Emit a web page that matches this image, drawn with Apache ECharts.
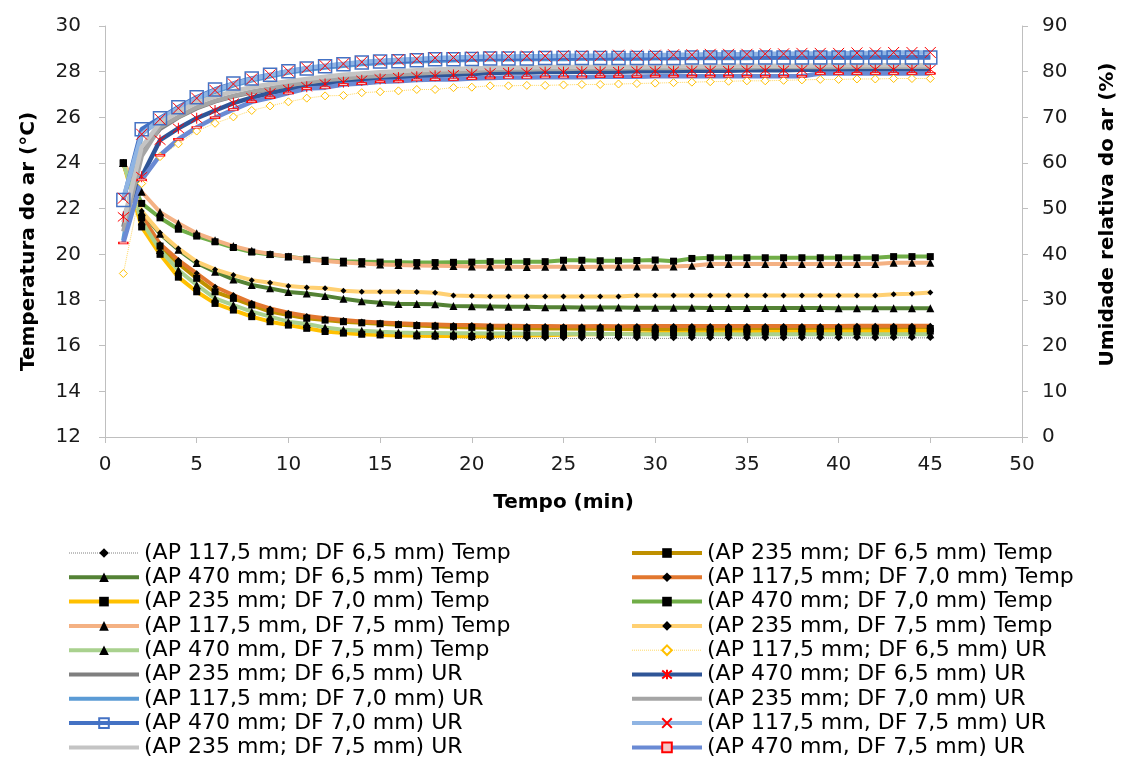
<!DOCTYPE html>
<html><head><meta charset="utf-8">
<script src="https://cdn.jsdelivr.net/npm/echarts@6/dist/echarts.min.js"></script>
<style>html,body{margin:0;padding:0;background:#fff}#c{width:1126px;height:760px}</style>
</head><body><div id="c"></div>
<script>
// ---- data ----
const minutes = [1,2,3,4,5,6,7,8,9,10,11,12,13,14,15,16,17,18,19,20,21,22,23,24,25,26,27,28,29,30,31,32,33,34,35,36,37,38,39,40,41,42,43,44,45];

const seriesNames = [
  '(AP 117,5 mm; DF 6,5 mm) Temp',
  '(AP 235 mm; DF 6,5 mm) Temp',
  '(AP 470 mm; DF 6,5 mm) Temp',
  '(AP 117,5 mm; DF 7,0 mm) Temp',
  '(AP 235 mm; DF 7,0 mm) Temp',
  '(AP 470 mm; DF 7,0 mm) Temp',
  '(AP 117,5 mm, DF 7,5 mm) Temp',
  '(AP 235 mm, DF 7,5 mm) Temp',
  '(AP 470 mm, DF 7,5 mm) Temp',
  '(AP 117,5 mm; DF 6,5 mm) UR',
  '(AP 235 mm; DF 6,5 mm) UR',
  '(AP 470 mm; DF 6,5 mm) UR',
  '(AP 117,5 mm; DF 7,0 mm) UR',
  '(AP 235 mm; DF 7,0 mm) UR',
  '(AP 470 mm; DF 7,0 mm) UR',
  '(AP 117,5 mm, DF 7,5 mm) UR',
  '(AP 235 mm; DF 7,5 mm) UR',
  '(AP 470 mm, DF 7,5 mm) UR'
];

// Temperature (°C)
const temp_117_65 = [24.0,21.3,20.05,19.05,18.4,17.9,17.58,17.3,17.08,16.92,16.78,16.66,16.57,16.5,16.45,16.42,16.39,16.37,16.35,16.32,
  16.32,16.32,16.31,16.32,16.32,16.31,16.32,16.32,16.33,16.32,16.32,16.33,16.32,16.32,16.33,16.33,16.32,16.33,16.33,16.33,16.34,16.33,16.34,16.34,16.34];
const temp_235_65 = [24.0,21.6,20.36,19.6,18.95,18.36,18.07,17.78,17.49,17.34,17.2,17.12,17.05,17.0,16.96,16.92,16.88,16.85,16.82,16.8,
  16.78,16.77,16.76,16.75,16.75,16.74,16.74,16.73,16.73,16.72,16.72,16.72,16.72,16.72,16.72,16.72,16.72,16.73,16.73,16.73,16.73,16.74,16.74,16.74,16.75];
const temp_470_65 = [24.0,21.85,20.9,20.2,19.62,19.24,18.9,18.66,18.51,18.35,18.28,18.18,18.05,17.95,17.88,17.83,17.82,17.81,17.74,17.73,
  17.72,17.7,17.7,17.68,17.68,17.67,17.67,17.67,17.66,17.66,17.66,17.66,17.65,17.65,17.65,17.65,17.65,17.65,17.65,17.64,17.64,17.64,17.64,17.64,17.64];
const temp_117_70 = [24.0,21.7,20.45,19.75,19.17,18.58,18.22,17.88,17.63,17.44,17.3,17.2,17.12,17.06,17.02,16.98,16.95,16.93,16.91,16.9,
  16.88,16.87,16.86,16.86,16.85,16.85,16.86,16.85,16.86,16.86,16.86,16.86,16.86,16.86,16.86,16.86,16.86,16.86,16.86,16.86,16.87,16.87,16.87,16.87,16.87];
const temp_235_70 = [24.0,21.2,20.0,19.0,18.36,17.85,17.56,17.27,17.05,16.9,16.76,16.62,16.55,16.5,16.47,16.45,16.43,16.42,16.42,16.4,
  16.42,16.44,16.45,16.46,16.48,16.5,16.5,16.52,16.53,16.55,16.56,16.57,16.58,16.58,16.59,16.6,16.6,16.6,16.61,16.62,16.62,16.63,16.63,16.64,16.64];
const temp_470_70 = [24.0,22.23,21.6,21.1,20.8,20.55,20.3,20.1,19.99,19.9,19.8,19.74,19.7,19.68,19.66,19.65,19.64,19.64,19.65,19.66,
  19.68,19.68,19.68,19.68,19.74,19.74,19.72,19.72,19.73,19.75,19.7,19.82,19.85,19.85,19.85,19.85,19.85,19.85,19.85,19.85,19.85,19.85,19.9,19.9,19.9];
const temp_117_75 = [24.0,22.74,21.85,21.36,20.92,20.62,20.36,20.16,20.02,19.9,19.78,19.71,19.64,19.6,19.56,19.53,19.51,19.5,19.49,19.47,
  19.46,19.46,19.45,19.46,19.46,19.45,19.46,19.46,19.47,19.46,19.47,19.5,19.58,19.58,19.58,19.58,19.58,19.58,19.58,19.58,19.58,19.58,19.63,19.63,19.63];
const temp_235_75 = [24.0,21.9,20.95,20.26,19.68,19.34,19.09,18.87,18.76,18.61,18.55,18.51,18.41,18.36,18.36,18.36,18.35,18.32,18.2,18.17,
  18.15,18.15,18.15,18.15,18.15,18.15,18.15,18.15,18.2,18.2,18.2,18.2,18.2,18.2,18.2,18.2,18.2,18.2,18.2,18.2,18.2,18.2,18.25,18.27,18.33];
const temp_470_75 = [24.0,21.45,20.19,19.31,18.66,18.07,17.78,17.49,17.27,17.05,16.95,16.8,16.7,16.65,16.61,16.58,16.56,16.55,16.54,16.54,
  16.53,16.53,16.52,16.52,16.52,16.52,16.51,16.51,16.5,16.5,16.5,16.5,16.5,16.5,16.49,16.5,16.5,16.5,16.5,16.5,16.5,16.5,16.5,16.5,16.5];

// Relative humidity (%)
const ur_117_65 = [35.8,55.5,61.4,64.2,67.0,68.7,70.1,71.5,72.5,73.4,74.2,74.7,74.8,75.4,75.6,75.8,76.1,76.1,76.5,76.6,
  76.9,76.9,77.0,77.0,77.1,77.2,77.2,77.3,77.4,77.5,77.6,77.7,77.8,77.9,78.0,78.0,78.1,78.2,78.3,78.3,78.4,78.4,78.5,78.5,78.5];
const ur_235_65 = [46.0,62.5,67.5,70.0,72.0,73.5,74.6,75.5,76.2,77.0,77.5,78.1,78.5,78.9,79.1,79.4,79.6,79.8,80.0,80.1,
  80.3,80.4,80.5,80.5,80.6,80.6,80.7,80.7,80.8,80.8,80.8,80.9,80.9,80.9,81.0,81.0,81.0,81.0,81.1,81.1,81.1,81.1,81.1,81.2,81.2];
const ur_470_65 = [48.2,57.0,65.0,67.6,69.8,71.5,73.1,74.3,75.3,76.1,76.7,77.3,77.7,78.1,78.4,78.7,78.9,79.1,79.3,79.5,
  79.7,79.8,79.8,79.9,79.9,80.0,80.0,80.0,80.1,80.1,80.1,80.2,80.2,80.2,80.3,80.3,80.3,80.4,80.4,80.4,80.4,80.5,80.5,80.5,80.5];
const ur_117_70 = [43.0,66.5,69.3,71.7,73.9,75.6,77.0,78.1,79.0,79.8,80.4,80.9,81.3,81.7,81.9,82.1,82.3,82.4,82.5,82.6,
  82.7,82.7,82.8,82.8,82.8,82.9,82.9,82.9,82.9,83.0,83.0,83.0,83.0,83.0,83.0,83.1,83.1,83.1,83.1,83.1,83.1,83.2,83.2,83.2,83.2];
const ur_235_70 = [45.0,61.5,67.9,70.1,72.2,73.6,74.7,75.6,76.3,77.1,77.6,78.2,78.5,78.9,79.1,79.4,79.6,79.8,80.0,80.1,
  80.4,80.5,80.5,80.6,80.6,80.7,80.7,80.7,80.8,80.8,80.8,80.9,80.9,80.9,80.9,81.0,81.0,81.0,81.0,81.0,81.1,81.1,81.1,81.1,81.1];
const ur_470_70 = [51.9,67.4,69.8,72.2,74.4,76.1,77.4,78.5,79.3,80.1,80.7,81.2,81.6,82.0,82.2,82.3,82.5,82.7,82.7,82.8,
  82.9,82.9,82.9,83.0,83.0,83.0,83.0,83.0,83.0,83.0,83.0,83.1,83.1,83.1,83.1,83.1,83.1,83.1,83.1,83.1,83.1,83.1,83.1,83.1,83.1];
const ur_117_75 = [52.3,66.3,69.6,72.0,74.2,75.9,77.3,78.4,79.3,80.1,80.8,81.3,81.7,82.1,82.4,82.6,82.8,83.0,83.1,83.2,
  83.3,83.3,83.4,83.4,83.5,83.5,83.5,83.6,83.6,83.6,83.7,83.7,83.8,83.8,83.8,83.9,83.9,84.0,84.0,84.0,84.1,84.1,84.2,84.2,84.2];
const ur_235_75 = [47.0,63.5,68.8,71.2,73.2,74.6,75.7,76.6,77.3,77.9,78.4,78.9,79.3,79.6,79.9,80.1,80.3,80.5,80.6,80.7,
  80.8,80.9,80.9,81.0,81.0,81.0,81.1,81.1,81.1,81.2,81.2,81.2,81.2,81.3,81.3,81.3,81.3,81.3,81.4,81.4,81.4,81.4,81.4,81.4,81.4];
const ur_470_75 = [42.5,56.3,61.7,65.2,67.8,69.9,71.7,73.4,74.3,75.3,76.3,76.5,77.2,77.4,77.8,77.9,78.2,78.3,78.3,78.5,
  78.6,78.7,78.7,78.8,78.8,78.8,78.9,78.9,78.9,79.0,79.0,79.0,79.0,79.0,79.0,79.0,79.0,79.0,79.6,79.6,79.6,79.6,79.6,79.6,79.6];

const seriesValues = [temp_117_65,temp_235_65,temp_470_65,temp_117_70,temp_235_70,temp_470_70,temp_117_75,temp_235_75,temp_470_75,
  ur_117_65,ur_235_65,ur_470_65,ur_117_70,ur_235_70,ur_470_70,ur_117_75,ur_235_75,ur_470_75];

// ---- styles ----
const FONT = 'DejaVu Sans';
const XSYM = 'path://M0,0L10,10M10,0L0,10';
const ASTSYM = 'path://M0,0L10,10M10,0L0,10M5,-1L5,11';
const DASHSYM = 'path://M0,0L9,0L9,4L0,4Z';
const black = {color:'#000'};
const hidden = {color:'rgba(0,0,0,0)'};
const styles = [
  {axis:0, color:'#808080', width:1, type:'dotted', symbol:'diamond', size:6, item:black},
  {axis:0, color:'#BF9000', width:4, symbol:'rect', size:7, item:black},
  {axis:0, color:'#548235', width:4, symbol:'triangle', size:8, item:black},
  {axis:0, color:'#E2772F', width:4, symbol:'diamond', size:6, item:black},
  {axis:0, color:'#FFC000', width:4, symbol:'rect', size:7, item:black},
  {axis:0, color:'#70AD47', width:4, symbol:'rect', size:7, item:black},
  {axis:0, color:'#F4B183', width:4, symbol:'triangle', size:8, item:black},
  {axis:0, color:'#FFD072', width:4, symbol:'diamond', size:6, item:black},
  {axis:0, color:'#A9D18E', width:4, symbol:'triangle', size:8, item:black},
  {axis:1, color:'#FFD966', width:1, type:'dotted', symbol:'diamond', size:8, item:{color:'#fff', borderColor:'#FFC000', borderWidth:1}},
  {axis:1, color:'#7F7F7F', width:4.5, symbol:null},
  {axis:1, color:'#2F5597', width:4.5, symbol:ASTSYM, size:11, item:{color:'rgba(0,0,0,0)', borderColor:'#FF0000', borderWidth:1}},
  {axis:1, color:'#5B9BD5', width:4.5, symbol:null},
  {axis:1, color:'#A5A5A5', width:4.5, symbol:null},
  {axis:1, color:'#4472C4', width:4.5, symbol:'rect', size:13, item:{color:'rgba(255,255,255,0)', borderColor:'#4472C4', borderWidth:1.5}},
  {axis:1, color:'#8FB4E3', width:4.5, symbol:XSYM, size:11, item:{color:'rgba(0,0,0,0)', borderColor:'#FF0000', borderWidth:1}},
  {axis:1, color:'#C4C4C4', width:4.5, symbol:null},
  {axis:1, color:'#6A8AD4', width:4.5, symbol:DASHSYM, size:[9,4], keep:true, item:{color:'#F7C6C6', borderColor:'#FF0000', borderWidth:1}}
];

const series = seriesNames.map((name, i) => {
  const s = styles[i];
  const hasSym = !!s.symbol;
  return {
    name, type:'line', yAxisIndex:s.axis,
    data: minutes.map((m, k) => [m, seriesValues[i][k]]),
    showSymbol: hasSym, symbol: hasSym ? s.symbol : 'circle', symbolSize: s.size || 1,
    symbolKeepAspect: !!s.keep,
    lineStyle: {color:s.color, width:s.width, type:s.type || 'solid'},
    itemStyle: hasSym ? s.item : hidden,
    emphasis:{disabled:true}, animation:false
  };
});

const legendItems = seriesNames.map((name, i) => ({
  name, lineStyle:{width: styles[i].width > 1 ? 4 : 1}
}));

const axisLineStyle = {lineStyle:{color:'#BFBFBF', width:1}};
const labelStyle = {fontFamily:FONT, fontSize:20, color:'#1a1a1a'};
const nameStyle = {fontFamily:FONT, fontSize:20, fontWeight:'bold', color:'#000'};
const legendBase = {
  orient:'vertical', top:542, itemWidth:70, itemHeight:12, itemGap:2.3, padding:0,
  selectedMode:false,
  textStyle:{fontFamily:FONT, fontSize:22, color:'#000'}
};

const chart = echarts.init(document.getElementById('c'), null, {renderer:'canvas'});
chart.setOption({
  animation:false,
  backgroundColor:'#fff',
  grid:{left:105, right:98, top:26, bottom:323, containLabel:false},
  xAxis:{type:'value', min:0, max:50, interval:5,
    name:'Tempo (min)', nameLocation:'middle', nameGap:56, nameTextStyle:nameStyle,
    axisLine:axisLineStyle, axisTick:{show:true, length:6, lineStyle:{color:'#BFBFBF'}},
    axisLabel:Object.assign({margin:18}, labelStyle), splitLine:{show:false}},
  yAxis:[
    {type:'value', min:12, max:30, interval:2, position:'left',
      name:'Temperatura do ar (°C)', nameLocation:'middle', nameRotate:90, nameGap:66,
      nameTextStyle:Object.assign({padding:[0,20,0,0]}, nameStyle),
      axisLine:Object.assign({show:true}, axisLineStyle), axisTick:{show:true, length:6, lineStyle:{color:'#BFBFBF'}},
      axisLabel:Object.assign({margin:24}, labelStyle), splitLine:{show:false}},
    {type:'value', min:0, max:90, interval:10, position:'right',
      name:'Umidade relativa do ar (%)', nameLocation:'middle', nameRotate:90, nameGap:76,
      nameTextStyle:Object.assign({padding:[0,0,0,34]}, nameStyle),
      axisLine:Object.assign({show:true}, axisLineStyle), axisTick:{show:true, length:6, lineStyle:{color:'#BFBFBF'}},
      axisLabel:Object.assign({margin:20}, labelStyle), splitLine:{show:false}}
  ],
  legend:[
    Object.assign({left:67, data:legendItems.filter((_, i) => i % 2 === 0)}, legendBase),
    Object.assign({left:630, data:legendItems.filter((_, i) => i % 2 === 1)}, legendBase)
  ],
  series
});
</script></body></html>
